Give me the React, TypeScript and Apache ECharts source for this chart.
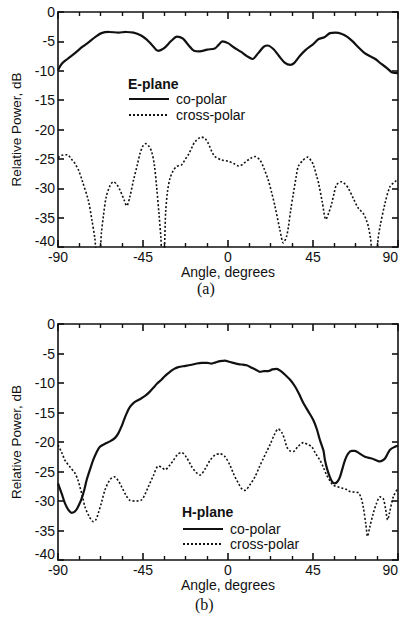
import React, { useEffect, useRef } from "react";
import * as echarts from "echarts";

// ---- E-plane (a) ----
const eCoAngle = [-90, -88, -85, -81, -77, -74, -70, -67, -63, -58, -54, -50, -46, -43, -40, -37, -34, -30, -27, -24, -21, -18, -15, -11, -7, -5, -3, 0, 3, 7, 10, 13, 16, 19, 21, 24, 27, 30, 33, 35, 38, 41, 45, 48, 51, 54, 57, 60, 63, 66, 69, 72, 75, 78, 81, 84, 87, 90];
const eCoDb = [-9.9, -8.8, -8.0, -7.0, -5.9, -5.2, -4.2, -3.6, -3.4, -3.5, -3.4, -3.5, -4.0, -4.7, -5.7, -6.6, -6.2, -4.9, -4.2, -4.5, -5.6, -6.6, -6.7, -6.4, -6.2, -5.6, -5.0, -5.3, -6.0, -6.8, -7.5, -8.0, -7.0, -5.9, -5.7, -6.3, -7.5, -8.6, -9.0, -8.7, -7.5, -6.5, -5.5, -4.6, -4.3, -3.6, -3.5, -3.7, -4.2, -5.0, -6.0, -6.9, -7.5, -8.0, -8.8, -9.5, -10.3, -10.4];

const eCrossAngle = [-90, -88, -85, -83, -81, -79, -77, -74, -72, -70.5, -69.5, -68, -67, -66, -64.5, -62.5, -60.7, -59, -57.2, -55, -53.6, -52, -50, -48, -46.5, -45, -43.6, -42, -40.4, -39, -37.8, -36.5, -35.5, -35, -34, -33, -32, -30.7, -29, -27.2, -24.5, -22.5, -21, -19, -17.5, -14, -12, -10.4, -8.5, -6.9, -3.3, 0, 3, 5.5, 7.5, 9, 12, 14.3, 16.9, 19, 21.3, 23, 24.9, 27.5, 29.3, 31, 32, 33.3, 34.6, 36, 37.2, 39.5, 42.2, 44, 45.2, 47, 48, 50, 51.8, 53.3, 54.9, 56.2, 57.5, 60.2, 62, 63.7, 66.3, 69, 71.6, 73, 74.3, 75.5, 76.5, 78.5, 79.5, 80.5, 83.1, 85.8, 88.4, 90];
const eCrossDb = [-24.8, -24.4, -24.3, -25.0, -25.8, -27.0, -28.9, -32.0, -35.5, -38.5, -41, -41, -37.5, -34.8, -31.5, -29.6, -28.9, -29.3, -30.3, -32.0, -33.0, -31.5, -28.6, -26.0, -24.0, -22.8, -22.4, -22.8, -23.8, -26.0, -29.7, -34.5, -38.5, -41, -41, -34, -30.5, -28.3, -27.0, -26.3, -26.0, -25.0, -24.3, -23.0, -22.1, -21.3, -21.6, -22.4, -23.8, -24.6, -25.2, -25.4, -25.8, -26.2, -26.0, -25.6, -24.9, -24.6, -25.2, -26.6, -28.6, -30.6, -33.1, -37.1, -39.3, -38.2, -36.5, -33.5, -30.9, -28.2, -26.3, -25.3, -24.7, -25.3, -26.0, -28.0, -29.2, -32.5, -35.3, -34.2, -32.6, -30.8, -29.4, -28.9, -29.3, -30.0, -31.7, -33.4, -34.3, -35.2, -36.5, -38.6, -41, -41, -38.5, -36.5, -32.6, -29.7, -28.9, -28.4];

// ---- H-plane (b) ----
const hCoAngle = [-90, -88, -86.3, -84.5, -82.8, -81.5, -80.1, -78.8, -77.5, -76, -74.8, -73, -71.3, -69.5, -67.8, -65.1, -62.5, -59.8, -58, -56.3, -55, -53.6, -52, -50.1, -47, -43.9, -41.5, -39.5, -37.5, -35.1, -33, -30.7, -28.5, -26.3, -22.5, -19.2, -16.5, -13.9, -11, -8.6, -6.5, -4.2, -1.6, 0.5, 3, 5.5, 8, 9.9, 12.5, 15, 16.9, 19, 21.3, 23.5, 25.8, 28, 30.2, 33, 35.5, 37.7, 39.9, 42.5, 45.2, 47, 48.7, 50.5, 51.3, 52.5, 54, 55.3, 56.6, 58, 59.3, 60.5, 61.9, 63.5, 65.5, 67, 69, 72.5, 76.1, 78.5, 80.5, 82, 83.1, 84.5, 85.8, 88.4, 90];
const hCoDb = [-27.0, -28.8, -30.4, -31.5, -32.0, -31.9, -31.4, -30.6, -29.6, -28.0, -26.4, -24.6, -23.0, -21.7, -20.8, -20.3, -19.9, -19.3, -18.5, -17.3, -16.2, -15.1, -14.1, -13.4, -12.8, -12.2, -11.5, -10.8, -10.1, -9.4, -8.7, -8.1, -7.6, -7.3, -7.1, -6.9, -6.7, -6.6, -6.6, -6.7, -6.5, -6.3, -6.2, -6.4, -6.6, -6.8, -6.9, -7.0, -7.4, -7.8, -8.1, -8.0, -8.0, -7.7, -7.6, -8.0, -8.6, -9.5, -10.6, -11.9, -13.4, -14.8, -16.3, -17.8, -19.7, -21.4, -23.0, -24.6, -26.0, -26.8, -27.0, -26.7, -25.9, -24.6, -23.1, -22.0, -21.5, -21.5, -21.8, -22.5, -22.8, -23.1, -23.3, -23.1, -22.8, -22.0, -21.3, -20.8, -20.6];

const hCrossAngle = [-90, -88, -86.3, -83.5, -81, -79.5, -78.4, -77, -75.7, -73.5, -71.3, -70, -68.7, -67, -65.1, -62.5, -60.2, -58, -56.3, -54, -51.9, -48.5, -45.7, -44, -42.2, -39.5, -36.9, -35, -33.4, -31, -28.9, -26.7, -24.5, -22, -19.2, -17, -14.8, -12, -9.5, -6.8, -4.2, -1.6, 1, 2.8, 5.5, 7.5, 9, 11.5, 14.3, 16.5, 18.7, 20.5, 22.2, 24.5, 26.6, 28.5, 30, 31.1, 32.8, 34.6, 37, 39.9, 42, 44.3, 46.5, 48.7, 50.5, 52.2, 54, 55.7, 58, 60.2, 62.5, 64.6, 67, 69, 70.5, 71.6, 73, 73.9, 75, 76.9, 78.5, 80.5, 82.2, 83.5, 84.5, 85.5, 87.5, 90];
const hCrossDb = [-20.5, -21.8, -23.1, -24.3, -25.3, -26.4, -27.6, -29.3, -31.0, -32.6, -33.5, -33.2, -32.1, -30.3, -28.1, -26.4, -25.9, -26.6, -27.6, -29.0, -29.9, -30.0, -29.8, -28.9, -27.6, -25.7, -24.1, -24.3, -24.7, -24.0, -23.1, -22.1, -21.8, -22.6, -24.2, -25.1, -25.6, -24.5, -23.1, -22.2, -22.0, -22.5, -23.9, -25.3, -27.0, -28.0, -28.2, -27.3, -25.9, -24.3, -22.8, -21.6, -20.5, -18.8, -17.8, -18.4, -19.6, -20.8, -21.5, -21.6, -20.8, -20.1, -20.4, -20.8, -22.0, -23.1, -24.3, -25.6, -26.6, -27.3, -27.6, -27.8, -28.0, -28.4, -28.5, -28.6, -29.5, -31.0, -34.0, -36.0, -34.5, -32.1, -30.5, -29.3, -29.6, -31.5, -33.2, -32.0, -29.3, -27.8];

const xTicks = { min: -90, max: 90, interval: 45 };
const yTicks = { min: -40, max: 0, interval: 5 };
const legendNames = ["co-polar", "cross-polar"];
const planeTitles = ["E-plane", "H-plane"];
const captions = ["(a)", "(b)"];
const xName = "Angle, degrees";
const yName = "Relative Power, dB";

const zip = (a: number[], b: number[]) => a.map((v, i) => [v, b[i]]);

const FONT = "'Liberation Sans', Arial, sans-serif";
const SERIF = "'Liberation Serif', 'Times New Roman', serif";
const INK = "#111";

function xAxisPair(gridIndex: number) {
  const common = {
    gridIndex,
    type: "value" as const,
    ...xTicks,
    axisLine: { show: true, onZero: false, lineStyle: { color: INK, width: 1.6 } },
    axisTick: { show: true, inside: true, length: 7, lineStyle: { color: INK, width: 1.6 } },
    minorTick: { show: true, splitNumber: 4, length: 4, lineStyle: { color: INK, width: 1.4 } },
    splitLine: { show: false },
    minorSplitLine: { show: false },
  };
  return [
    {
      ...common,
      position: "bottom",
      axisLabel: { show: true, margin: 3, fontSize: 14, color: INK, fontFamily: FONT, alignMaxLabel: "right" },
      name: xName,
      nameLocation: "middle",
      nameGap: 14,
      nameTextStyle: { fontSize: 14, color: INK, fontFamily: FONT },
    },
    { ...common, position: "top", axisLabel: { show: false } },
  ];
}

function yAxisPair(gridIndex: number) {
  const common = {
    gridIndex,
    type: "value" as const,
    ...yTicks,
    axisLine: { show: true, onZero: false, lineStyle: { color: INK, width: 1.6 } },
    axisTick: { show: true, inside: true, length: 6, lineStyle: { color: INK, width: 1.6 } },
    splitLine: { show: false },
  };
  return [
    {
      ...common,
      position: "left",
      axisLabel: {
        show: true, margin: 3, fontSize: 14, lineHeight: 12, color: INK, fontFamily: FONT,
        verticalAlignMinLabel: "bottom",
      },
      name: yName,
      nameLocation: "middle",
      nameGap: 34,
      nameTextStyle: { fontSize: 13.5, color: INK, fontFamily: FONT },
    },
    { ...common, position: "right", axisLabel: { show: false } },
  ];
}

function lineSeries(name: string, data: number[][], xi: number, yi: number, dotted: boolean) {
  return {
    name,
    type: "line",
    xAxisIndex: xi,
    yAxisIndex: yi,
    data,
    symbol: "none",
    showSymbol: false,
    smooth: 0.3,
    clip: true,
    lineStyle: dotted
      ? { color: INK, width: 1.6, type: [2, 2] }
      : { color: INK, width: 2.2, type: "solid" },
    itemStyle: { color: INK },
  };
}

function legendAt(left: number, top: number, gap: number) {
  return {
    data: legendNames,
    orient: "vertical",
    left,
    top,
    padding: 0,
    itemWidth: 40,
    itemHeight: 14,
    itemGap: gap,
    selectedMode: false,
    itemStyle: { opacity: 0, borderWidth: 0 },
    textStyle: { fontSize: 14, color: INK, fontFamily: FONT, padding: [0, 0, 0, 2] },
  };
}

export default function App() {
  const ref = useRef<HTMLDivElement>(null);
  useEffect(() => {
    document.body.style.margin = "0";
    if (!ref.current) return;
    const chart = echarts.init(ref.current, undefined, { renderer: "svg" });
    chart.setOption({
      animation: false,
      backgroundColor: "#fff",
      textStyle: { fontFamily: FONT },
      grid: [
        { left: 58, right: 2, top: 12, height: 235, outerBoundsMode: "none", containLabel: false },
        { left: 58, right: 2, top: 324, height: 236, outerBoundsMode: "none", containLabel: false },
      ],
      xAxis: [...xAxisPair(0), ...xAxisPair(1)],
      yAxis: [...yAxisPair(0), ...yAxisPair(1)],
      title: [
        { text: planeTitles[0], left: 128, top: 77, padding: 0, textStyle: { fontSize: 14, fontWeight: "bold", color: INK, fontFamily: FONT } },
        { text: planeTitles[1], left: 182, top: 505, padding: 0, textStyle: { fontSize: 14, fontWeight: "bold", color: INK, fontFamily: FONT } },
        { text: captions[0], left: 197, top: 280, padding: 0, textStyle: { fontSize: 16, fontWeight: "normal", color: INK, fontFamily: SERIF } },
        { text: captions[1], left: 195, top: 596, padding: 0, textStyle: { fontSize: 16, fontWeight: "normal", color: INK, fontFamily: SERIF } },
      ],
      legend: [legendAt(128, 92, 2), legendAt(182, 522, 1)],
      series: [
        lineSeries(legendNames[0], zip(eCoAngle, eCoDb), 0, 0, false),
        lineSeries(legendNames[1], zip(eCrossAngle, eCrossDb), 0, 0, true),
        lineSeries(legendNames[0], zip(hCoAngle, hCoDb), 2, 2, false),
        lineSeries(legendNames[1], zip(hCrossAngle, hCrossDb), 2, 2, true),
      ],
    });
    return () => chart.dispose();
  }, []);
  return (
    <div
      ref={ref}
      style={{ position: "absolute", left: 0, top: 0, width: 400, height: 624, background: "#fff" }}
    />
  );
}
